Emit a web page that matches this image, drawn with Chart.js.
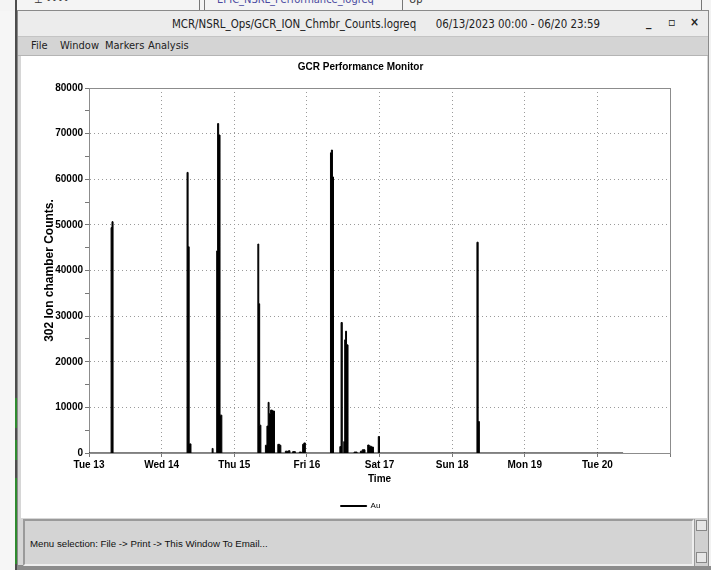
<!DOCTYPE html>
<html>
<head>
<meta charset="utf-8">
<script src="https://cdn.jsdelivr.net/npm/chart.js@4.4.0/dist/chart.umd.min.js"></script>
<style>
  html, body { margin: 0; padding: 0; }
  body { width: 711px; height: 570px; background: #f2f2f2; position: relative; overflow: hidden; font-family: "DejaVu Sans Condensed", "DejaVu Sans", sans-serif; }
  #behind { position: absolute; left: 0; top: 0; width: 711px; height: 11px; background: #f4f4f4; overflow: hidden; }
  #behind .v { position: absolute; top: 0; height: 11px; width: 1px; background: #777; }
  #behind .t { position: absolute; top: -7px; font-size: 11px; color: #4a4aa0; white-space: nowrap; }
  #desk { position: absolute; left: 0; top: 0; width: 15px; height: 570px; background: #f6f6f6; }
  #edge { position: absolute; left: 15px; top: 0; width: 2px; height: 570px; background: #4d4d4d; }
  #edge .g { position: absolute; left: 0; width: 2px; background: #2f8a2f; }
  #bottom { position: absolute; left: 17px; top: 566px; width: 694px; height: 4px; background: #8c8c8c; }
  #win { position: absolute; left: 17px; top: 10px; width: 692px; height: 556px; background: #d6d6d6; border: 1px solid #8a8a8a; box-sizing: border-box; }
  #titlebar { position: absolute; left: 0; top: 0; width: 690px; height: 25px; background: #ececec; }
  #titlebar .txt { position: absolute; top: 6px; left: 154px; font-size: 11.4px; color: #222; white-space: pre; }
  #titlebar .btn { position: absolute; top: 4px; font-size: 12px; color: #222; font-weight: bold; }
  #menubar { position: absolute; left: 0; top: 25px; width: 690px; height: 20px; background: #d4d4d4; border-top: 1px solid #c4c4c4; border-bottom: 1px solid #b4b4b4; box-sizing: border-box; }
  #menubar span { position: absolute; top: 2px; font-size: 11px; color: #222; }
  #plotbox { position: absolute; left: 3px; top: 45px; width: 686px; height: 462px; background: #ffffff; }
  #chartwrap { position: absolute; left: 0; top: 0; width: 686px; height: 464px; }
  #status { position: absolute; left: 5px; top: 508px; width: 671px; height: 47px; background: #d4d4d4; border: 2px solid; border-color: #9a9a9a #eeeeee #eeeeee #9a9a9a; box-sizing: border-box; z-index: 2; }
  #status span { position: absolute; left: 5px; top: 17px; font-family: "Liberation Sans", Arial, sans-serif; font-size: 9.7px; color: #111; }
  #scroll { position: absolute; left: 676px; top: 508px; width: 14px; height: 47px; background: #d0d0d0; border-left: 1px solid #999; z-index: 2; box-sizing: border-box; }
  #scroll .a { position: absolute; left: 1px; width: 11px; height: 11px; border: 1px solid #888; box-sizing: border-box; background: #e6e6e6; }
</style>
</head>
<body>
<div id="desk"></div>
<div id="behind">
  <div class="t" style="left:34px;color:#333">&#8869; &#8226;&#8226;&#8226;&#8226;</div>
  <div class="v" style="left:199px"></div>
  <div class="v" style="left:204px"></div>
  <div class="t" style="left:217px">EPIC_NSRL_Performance_logreq</div>
  <div class="v" style="left:402px"></div>
  <div class="t" style="left:409px;color:#333">Up</div>
  <div class="v" style="left:701px"></div>
</div>
<div id="edge">
  <div class="g" style="top:398px;height:30px"></div>
  <div class="g" style="top:440px;height:20px"></div>
  <div class="g" style="top:478px;height:86px"></div>
</div>
<div id="bottom"></div>
<div id="win">
  <div id="titlebar">
    <div class="txt">MCR/NSRL_Ops/GCR_ION_Chmbr_Counts.logreq      06/13/2023 00:00 - 06/20 23:59</div>
    <div class="btn" style="left:628px">_</div>
    <div class="btn" style="left:650px">&#9643;</div>
    <div class="btn" style="left:672px">&#215;</div>
  </div>
  <div id="menubar">
    <span style="left:13px">File</span>
    <span style="left:42px">Window</span>
    <span style="left:87px">Markers</span>
    <span style="left:130px">Analysis</span>
  </div>
  <div id="plotbox">
    <div id="chartwrap"><canvas id="chart"></canvas></div>
  </div>
  <div id="status"><span>Menu selection: File -&gt; Print -&gt; This Window To Email...</span></div>
  <div id="scroll">
    <div class="a" style="top:1px"></div>
    <div class="a" style="top:33px"></div>
  </div>
</div>
<script>
// hours since 06/13/2023 00:00, and counts held from that time until the next one
const sampleHours = [
  0, 7.3, 7.6, 7.95,
  32.4, 32.75, 33.1, 33.7,
  40.7, 41.0,
  42.2, 42.5, 42.85, 43.3, 43.9,
  55.8, 56.1, 56.4, 56.8,
  58.3, 58.8, 59.2, 59.5, 60.0, 60.6, 61.3,
  62.4, 63.0, 63.4,
  64.9, 65.6, 65.9, 66.4,
  67.3, 68.2, 69.5, 70.2,
  70.6, 71.0, 71.5,
  79.8, 80.1, 80.45, 80.8,
  82.9, 83.3, 83.7,
  84.2, 84.5, 84.8, 85.1, 85.6,
  87.6, 88.6,
  89.7, 90.3, 91.2,
  92.1, 92.6, 93.3, 94.0,
  95.6, 96.0,
  128.2, 128.6, 129.0,
  176.5
];
const auCounts = [
  0, 49400, 50700, 0,
  61500, 45200, 2000, 0,
  1000, 0,
  44300, 72200, 69700, 8300, 0,
  45800, 32700, 6100, 0,
  1700, 5900, 11100, 8600, 9400, 9200, 0,
  1900, 1700, 0,
  400, 0, 500, 0,
  300, 0, 200, 0,
  1900, 2200, 0,
  65800, 66400, 60500, 0,
  1400, 28600, 0,
  2500, 24800, 26700, 23700, 0,
  200, 0,
  400, 700, 0,
  1750, 1500, 1300, 0,
  3600, 0,
  46200, 6900, 0,
  0
];
const dayLabels = ['Tue 13', 'Wed 14', 'Thu 15', 'Fri 16', 'Sat 17', 'Sun 18', 'Mon 19', 'Tue 20', ''];
const yMax = 80000;

const points = sampleHours.map((h, i) => ({ x: h, y: auCounts[i] }));

const frame = {
  id: 'frame',
  beforeDatasetsDraw(chart) {
    const a = chart.chartArea;
    const ctx = chart.ctx;
    ctx.save();
    ctx.strokeStyle = '#8c8c8c';
    ctx.lineWidth = 1;
    ctx.strokeRect(Math.round(a.left) + 0.5, Math.round(a.top) + 0.5, Math.round(a.right - a.left), Math.round(a.bottom - a.top));
    ctx.restore();
  }
};

const font = 'Liberation Sans';

const config = {
  type: 'line',
  data: {
    datasets: [{
      label: 'Au',
      data: points,
      stepped: true,
      fill: 'origin',
      borderColor: '#000',
      backgroundColor: '#000',
      borderWidth: 1,
      pointRadius: 0
    }]
  },
  options: {
    responsive: false,
    animation: false,
    devicePixelRatio: 1,
    layout: { padding: { left: 30, right: 37, top: 0, bottom: 0 } },
    plugins: {
      title: {
        display: true,
        text: 'GCR Performance Monitor',
        color: '#000',
        font: { family: font, size: 10, weight: 'bold' },
        padding: { top: 5, bottom: 15 }
      },
      legend: {
        position: 'bottom',
        labels: {
          boxWidth: 26,
          boxHeight: 1,
          padding: 10,
          color: '#000',
          font: { family: font, size: 8 }
        }
      },
      tooltip: { enabled: false }
    },
    scales: {
      x: {
        type: 'linear',
        min: 0,
        max: 192,
        afterFit(s) { s.height = 39; },
        ticks: {
          stepSize: 24,
          autoSkip: false,
          maxRotation: 0,
          padding: 2,
          color: '#000',
          font: { family: font, size: 10, weight: 'bold' },
          callback: (v, i) => dayLabels[i]
        },
        grid: {
          color: (c) => (c.tick && c.tick.value > 0 && c.tick.value < 192) ? '#9a9a9a' : 'rgba(0,0,0,0)',
          tickColor: '#777',
          tickLength: 4,
          tickBorderDash: []
        },
        border: { color: '#808080', width: 1, dash: [1, 3] },
        title: {
          display: true,
          text: 'Time',
          color: '#000',
          font: { family: font, size: 10, weight: 'bold' },
          padding: { top: 0, bottom: 7 }
        }
      },
      y: {
        min: 0,
        max: yMax,
        afterFit(s) { s.width = 38; },
        ticks: {
          stepSize: 5000,
          autoSkip: false,
          padding: 2,
          color: '#000',
          font: { family: font, size: 10, weight: 'bold' },
          callback: (v) => (v % 10000 === 0 ? v : '')
        },
        grid: {
          color: (c) => (c.tick && c.tick.value % 10000 === 0 && c.tick.value > 0 && c.tick.value < yMax) ? '#9a9a9a' : 'rgba(0,0,0,0)',
          tickColor: '#777',
          tickLength: 4,
          tickBorderDash: []
        },
        border: { color: '#808080', width: 1, dash: [1, 3] },
        title: {
          display: true,
          text: '302 Ion chamber Counts.',
          color: '#000',
          font: { family: font, size: 12, weight: 'bold' },
          padding: { top: -9, bottom: 0 }
        }
      }
    }
  },
  plugins: [frame]
};

const ctx = document.getElementById('chart');
ctx.width = 686;
ctx.height = 464;
new Chart(ctx, config);
</script>
</body>
</html>
